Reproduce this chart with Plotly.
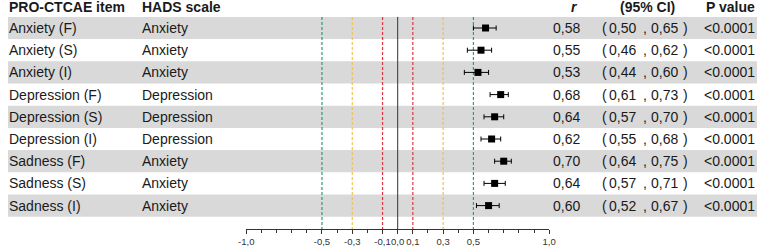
import plotly.graph_objects as go

items = ["Anxiety (F)", "Anxiety (S)", "Anxiety (I)",
         "Depression (F)", "Depression (S)", "Depression (I)",
         "Sadness (F)", "Sadness (S)", "Sadness (I)"]
scales = ["Anxiety", "Anxiety", "Anxiety",
          "Depression", "Depression", "Depression",
          "Anxiety", "Anxiety", "Anxiety"]
r_vals = [0.58, 0.55, 0.53, 0.68, 0.64, 0.62, 0.70, 0.64, 0.60]
ci_low = [0.50, 0.46, 0.44, 0.61, 0.57, 0.55, 0.64, 0.57, 0.52]
ci_high = [0.65, 0.62, 0.60, 0.73, 0.70, 0.68, 0.75, 0.71, 0.67]
p_vals = ["<0.0001"] * 9

tick_vals = [-1.0, -0.5, -0.3, -0.1, 0.0, 0.1, 0.3, 0.5, 1.0]
tick_text = ["-1,0", "-0,5", "-0,3", "-0,1", "0,0", "0,1", "0,3", "0,5", "1,0"]

ref_lines = [(-0.5, "#23a173"), (-0.3, "#f2c14e"), (-0.1, "#e5323e"),
             (0.1, "#e5323e"), (0.3, "#f2c14e"), (0.5, "#23a173")]

W, H = 764, 248
FONT = "Liberation Sans, Arial, sans-serif"
TXT = "#1a1a1a"

def fmt(v):
    return f"{v:.2f}".replace(".", ",")

def px(x):
    return x / W

n = len(items)
rows = list(range(n))
Y_TOP = -1.261
Y_BOTTOM = 9.054

fig = go.Figure()
fig.add_trace(go.Scatter(
    x=r_vals, y=rows, mode="markers",
    marker=dict(symbol="square", size=7, color="black"),
    error_x=dict(type="data", symmetric=False,
                 array=[h - v for h, v in zip(ci_high, r_vals)],
                 arrayminus=[v - l for v, l in zip(r_vals, ci_low)],
                 color="black", thickness=1, width=2.5),
    hoverinfo="skip", showlegend=False, cliponaxis=False,
))

shapes = []
for i in rows:
    if i % 2 == 0:
        shapes.append(dict(type="rect", xref="paper", yref="y",
                           x0=0, x1=1, y0=i - 0.5, y1=i + 0.5,
                           fillcolor="#d9d9d9", line=dict(width=0), layer="below"))
for xv, col in ref_lines:
    shapes.append(dict(type="line", xref="x", yref="y", x0=xv, x1=xv,
                       y0=-0.5, y1=Y_BOTTOM,
                       line=dict(color=col, width=1.2, dash="3px,2px"), layer="below"))
shapes.append(dict(type="line", xref="x", yref="y", x0=0, x1=0,
                   y0=-0.5, y1=Y_BOTTOM,
                   line=dict(color="#333333", width=1), layer="below"))

ann = []
def add(text, x, y, anchor, bold=False, italic=False, size=14):
    t = text
    if bold:
        t = f"<b>{t}</b>"
    if italic:
        t = f"<i>{t}</i>"
    ann.append(dict(text=t, x=px(x), y=y, xref="paper", yref="y",
                    xanchor=anchor, yanchor="middle", showarrow=False,
                    borderpad=0, borderwidth=0,
                    font=dict(family=FONT, size=size, color=TXT)))

HY = -0.95
add("PRO-CTCAE item", 1, HY, "left", bold=True)
add("HADS scale", 137, HY, "left", bold=True)
add("r", 581, HY, "right", bold=True, italic=True)
add("(95% CI)", 652, HY, "center", bold=True)
add("P value", 762, HY, "right", bold=True)

for i in rows:
    add(items[i], 1, i, "left")
    add(scales[i], 137, i, "left")
    add(fmt(r_vals[i]), 583, i, "right")
    add("(", 606, i, "left")
    add(fmt(ci_low[i]), 641, i, "right")
    add(",", 650, i, "center")
    add(fmt(ci_high[i]), 683, i, "right")
    add(")", 689, i, "left")
    add(p_vals[i], 762, i, "right")

fig.update_layout(
    width=W, height=H, margin=dict(l=0, r=0, t=0, b=0),
    paper_bgcolor="white", plot_bgcolor="rgba(0,0,0,0)",
    shapes=shapes, annotations=ann,
    xaxis=dict(domain=[243 / W, 552 / W], range=[-1.0, 1.0],
               showgrid=False, zeroline=False,
               showline=True, linecolor="#333333", linewidth=1,
               tickvals=tick_vals, ticktext=tick_text, tickangle=0,
               ticks="outside", ticklen=4, tickcolor="#333333",
               tickfont=dict(family=FONT, size=9.5, color="#333333"),
               minor=dict(dtick=0.1, ticks="outside", ticklen=3, tickcolor="#333333"),
               fixedrange=True),
    yaxis=dict(domain=[(H - 229) / H, 1], range=[Y_BOTTOM, Y_TOP],
               showgrid=False, zeroline=False, showline=False,
               showticklabels=False, ticks="", fixedrange=True),
)

css = "margin:0;padding:0;overflow:hidden;width:764px;height:248px;"
fig.write_html(
    "out.html",
    config={"displayModeBar": False},
    post_script=(
        f"document.documentElement.style.cssText='{css}';"
        f"document.body.style.cssText='{css}';"
    ),
)
